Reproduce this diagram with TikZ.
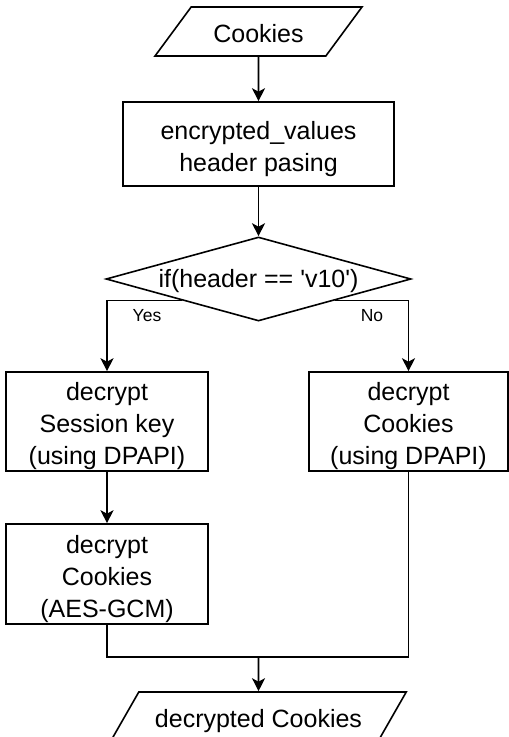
\documentclass[tikz,border=0pt]{standalone}
\usepackage{fontspec}
\setmainfont{Liberation Sans}
\usetikzlibrary{shapes.geometric,arrows.meta}
\newcommand{\topstrut}{\rule[0pt]{0pt}{28pt}}
\newcommand{\botstrut}{\rule[-6pt]{0pt}{0pt}}
\begin{document}
\begin{tikzpicture}[x=1pt,y=-1pt,
  every node/.style={font=\fontsize{25}{32}\selectfont, align=center, inner sep=0pt},
  box/.style={draw, line width=1.6pt, rectangle},
  io/.style={draw, line width=1.6pt, trapezium, trapezium left angle=54.5, trapezium right angle=125.5, trapezium stretches=true},
  dec/.style={draw, line width=1.6pt, diamond, aspect=3.7},
  lbl/.style={font=\fontsize{17.5}{20}\selectfont},
  conn/.style={line width=1.6pt, -{Stealth[length=13pt,width=13pt,inset=3.5pt]}},
  line/.style={line width=1.6pt}]
\clip (0,0) rectangle (509,737);
\fill[white] (0,0) rectangle (509,737);
\node[io, minimum width=207, minimum height=49] (cookies) at (258.5,31.5) {\topstrut Cookies\botstrut};
\node[box, minimum width=271, minimum height=84] (parse) at (258.5,144) {\topstrut encrypted\_values\\header pasing\botstrut};
\node[dec, minimum width=305, minimum height=84] (cond) at (258.5,279) {\rule{0pt}{22pt}if(header == \textquotesingle v10\textquotesingle)};
\node[box, minimum width=202, minimum height=99] (sess) at (107,421.5) {\topstrut decrypt\\Session key\\(using DPAPI)\botstrut};
\node[box, minimum width=199, minimum height=99] (dpapi) at (408.5,421.5) {\topstrut decrypt\\Cookies\\(using DPAPI)\botstrut};
\node[box, minimum width=202, minimum height=100] (aes) at (107,574) {\topstrut decrypt\\Cookies\\(AES-GCM)\botstrut};
\node[io, minimum width=296, minimum height=49] (out) at (258.5,716.5) {\topstrut decrypted Cookies\botstrut};
\coordinate (m) at (258.5,657);
\draw[conn] (cookies.south) -- (parse.north);
\draw[conn] (parse.south) -- (cond.north);
\draw[conn] (cond.south west) -| (sess.north);
\draw[conn] (cond.south east) -| (dpapi.north);
\draw[conn] (sess.south) -- (aes.north);
\draw[line] (aes.south) |- (m);
\draw[line] (dpapi.south) |- (m);
\draw[conn] (m) -- (out.north);
\node[lbl] (yes) at (147,316) {Yes};
\node[lbl] (no) at (372,316) {No};
\end{tikzpicture}
\end{document}
